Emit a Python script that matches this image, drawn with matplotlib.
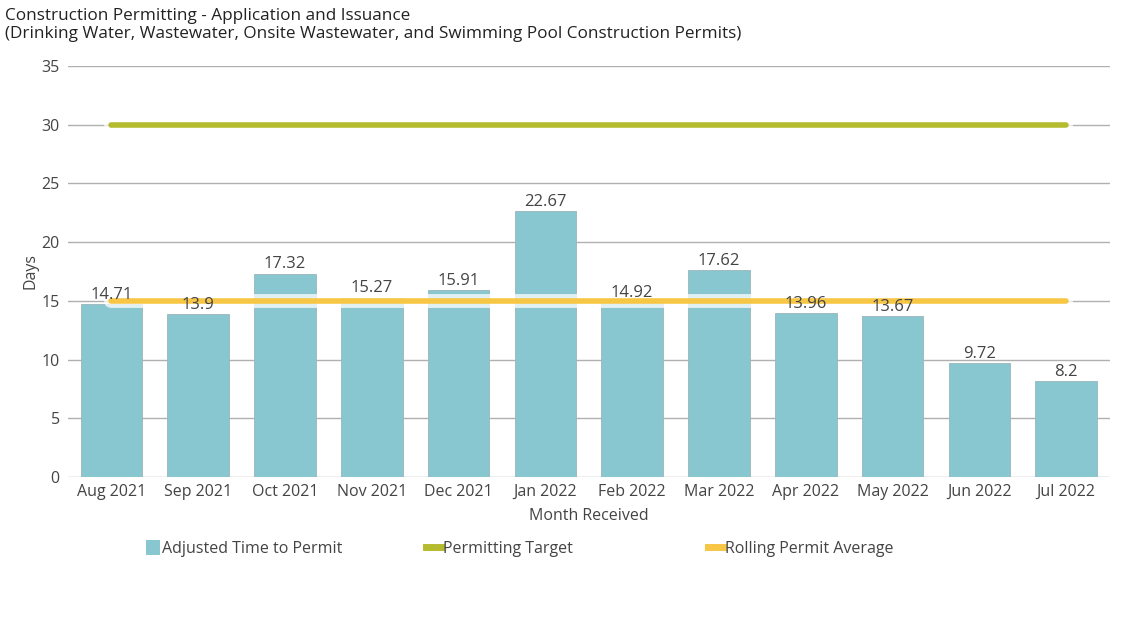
import matplotlib.pyplot as plt
import matplotlib.patheffects as pe
from matplotlib.patches import Patch
from matplotlib.lines import Line2D

plt.rcParams['font.family'] = ['Open Sans', 'DejaVu Sans']

months = ["Aug 2021", "Sep 2021", "Oct 2021", "Nov 2021", "Dec 2021", "Jan 2022",
          "Feb 2022", "Mar 2022", "Apr 2022", "May 2022", "Jun 2022", "Jul 2022"]
adjusted_time = [14.71, 13.9, 17.32, 15.27, 15.91, 22.67, 14.92, 17.62, 13.96, 13.67, 9.72, 8.2]
permitting_target = [30] * 12
rolling_average = [15] * 12

bar_color = "#88c7d0"
target_color = "#b5bb2f"
rolling_color = "#f6c644"
text_color = "#444444"

fig = plt.figure(figsize=(11.38, 6.38), dpi=100)
ax = fig.add_axes([0.0598, 0.2524, 0.9152, 0.6442])

x = list(range(len(months)))
ax.bar(x, adjusted_time, width=0.71, color=bar_color, edgecolor="#9ab5ba", linewidth=0.6, zorder=2)
for xi, v in zip(x, adjusted_time):
    ax.text(xi, v + 0.1, f"{v:g}", ha="center", va="bottom", fontsize=12, color=text_color, zorder=5)

halo = [pe.Stroke(linewidth=10, foreground="white", alpha=0.75), pe.Normal()]
ax.plot(x, permitting_target, color=target_color, linewidth=4, solid_capstyle="round",
        path_effects=halo, zorder=3)
ax.plot(x, rolling_average, color=rolling_color, linewidth=4, solid_capstyle="round",
        path_effects=halo, zorder=3)

ax.set_xlim(-0.5, 11.5)
ax.set_ylim(0, 35)
ax.set_yticks(range(0, 36, 5))
ax.set_xticks(x)
ax.set_xticklabels(months)
ax.grid(axis="y", color="#b0b0b0", linewidth=1, zorder=0)
ax.set_axisbelow(True)
for s in ax.spines.values():
    s.set_visible(False)
ax.tick_params(axis="y", length=0, pad=6, labelsize=11.5, labelcolor=text_color)
ax.tick_params(axis="x", length=0, pad=5, labelsize=11.5, labelcolor=text_color)
ax.set_xlabel("Month Received", fontsize=11.5, color=text_color, labelpad=6)
ax.set_ylabel("Days", fontsize=11.5, color=text_color, labelpad=2)

fig.text(0.004, 0.987, "Construction Permitting - Application and Issuance\n"
         "(Drinking Water, Wastewater, Onsite Wastewater, and Swimming Pool Construction Permits)",
         ha="left", va="top", fontsize=12.3, color="#222222", linespacing=1.15)

handles = [Patch(facecolor=bar_color, edgecolor="none"),
           Line2D([0], [0], color=target_color, linewidth=5),
           Line2D([0], [0], color=rolling_color, linewidth=5)]
labels = ["Adjusted Time to Permit", "Permitting Target", "Rolling Permit Average"]
anchors = [0.128, 0.3745, 0.6225]
for h, lab, xa in zip(handles, labels, anchors):
    fig.legend([h], [lab], loc="center left", bbox_to_anchor=(xa, 0.14), frameon=False,
               fontsize=11.5, labelcolor=text_color, handlelength=0.9, handleheight=1.0,
               handletextpad=0.15, borderaxespad=0, borderpad=0)

fig.savefig("out.png", dpi=100)
